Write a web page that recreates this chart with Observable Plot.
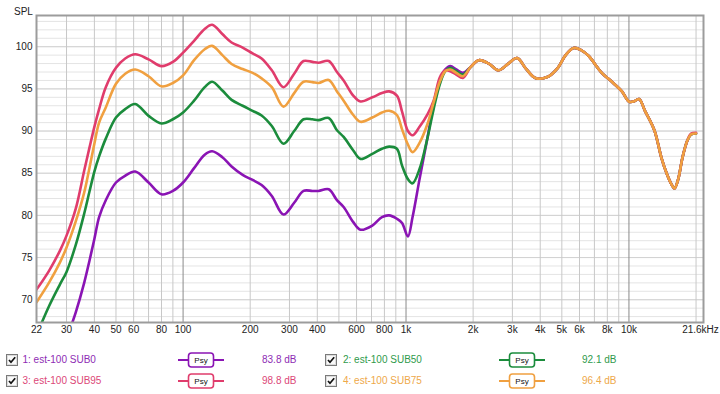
<!DOCTYPE html>
<html><head><meta charset="utf-8">
<script src="https://cdn.jsdelivr.net/npm/d3@7"></script>
<script src="https://cdn.jsdelivr.net/npm/@observablehq/plot@0.6"></script>
<style>
body{margin:0;background:#fff;}
#wrap{position:relative;width:720px;height:394px;font-family:"Liberation Sans",Arial,sans-serif;font-size:10px;overflow:hidden;background:#fff}
#chart{position:absolute;left:0;top:0}
.leg{position:absolute;height:14px;line-height:14px;white-space:nowrap}
.leg svg{display:block}
</style></head>
<body><div id="wrap"><div id="chart"></div><div id="legend"></div></div>
<script>
const freqs = [22,25,28,30,33,36,38,40,42,45,50,55,61,70,80,90,100,112,125,135,150,165,185,205,225,250,282,315,347,380,405,450,490,525,580,625,706,780,840,910,960,1020,1070,1150,1250,1330,1420,1500,1580,1680,1800,1950,2120,2350,2600,2850,3150,3450,3800,4300,4800,5200,5650,6100,6600,7500,8500,9300,10000,10500,11100,11800,13000,14000,14800,15500,16000,16600,17400,18300,19000,20000];

const sub0 = [54.0,58.0,62.5,65.3,68.5,72.0,74.6,77.2,79.8,81.8,83.9,84.7,85.2,83.9,82.5,82.9,83.9,85.6,87.2,87.6,86.9,85.8,84.8,84.2,83.6,82.3,80.1,81.5,82.9,82.9,82.9,83.1,81.8,81.0,79.2,78.3,78.8,79.8,80.0,79.6,79.1,77.5,79.8,84.3,89.3,93.2,96.1,97.3,97.7,97.3,96.9,97.6,98.4,98.0,97.2,97.9,98.65,97.4,96.3,96.4,97.5,99.0,99.85,99.6,98.9,97.0,95.7,94.7,93.5,93.5,93.8,92.4,90.1,86.8,84.9,83.7,83.2,84.2,86.9,88.9,89.6,89.7];

const sub50 = [65.8,69.2,71.8,73.3,76.5,80.2,82.8,85.2,87.0,89.1,91.6,92.6,93.2,91.8,90.9,91.4,92.2,93.6,95.2,95.85,94.8,93.7,93.0,92.4,91.85,90.6,88.5,90.0,91.4,91.4,91.3,91.55,90.1,89.3,87.7,86.7,87.3,87.9,88.15,87.9,85.9,84.3,83.8,85.5,89.25,92.6,95.6,97.1,97.5,97.1,96.7,97.6,98.4,98.0,97.2,97.9,98.65,97.4,96.3,96.4,97.5,99.0,99.85,99.6,98.9,97.0,95.7,94.7,93.5,93.5,93.8,92.4,90.1,86.8,84.9,83.7,83.2,84.2,86.9,88.9,89.6,89.7];

const sub95 = [71.2,73.4,75.8,77.6,80.8,85.3,88.0,90.5,92.6,95.2,97.5,98.6,99.1,98.5,97.7,98.2,99.3,100.7,102.1,102.6,101.5,100.5,99.9,99.2,98.6,97.2,95.2,96.8,98.3,98.2,98.1,98.3,97.0,96.0,94.2,93.5,94.0,94.5,94.7,94.2,92.3,90.0,89.5,90.5,92.0,93.6,96.4,97.2,97.1,96.7,96.3,97.6,98.4,98.0,97.2,97.9,98.65,97.4,96.3,96.4,97.5,99.0,99.85,99.6,98.9,97.0,95.7,94.7,93.5,93.5,93.8,92.4,90.1,86.8,84.9,83.7,83.2,84.2,86.9,88.9,89.7,89.8];

const sub75 = [69.7,72.0,74.4,76.2,79.3,82.7,85.6,88.5,91.0,92.8,95.6,96.8,97.3,96.5,95.3,95.7,96.6,98.4,99.7,100.1,99.0,97.95,97.35,96.9,96.25,95.2,92.9,94.5,95.85,95.8,95.7,96.05,94.7,93.6,91.9,91.1,91.6,92.2,92.4,91.9,90.2,88.4,87.5,88.6,90.9,93.4,95.9,97.1,97.3,96.9,96.5,97.6,98.4,98.0,97.2,97.9,98.65,97.4,96.3,96.4,97.5,99.0,99.85,99.6,98.9,97.0,95.7,94.7,93.5,93.5,93.8,92.4,90.1,86.8,84.9,83.7,83.2,84.2,86.9,88.9,89.6,89.7];

const seriesNames = ["1: est-100 SUB0","2: est-100 SUB50","3: est-100 SUB95","4: est-100 SUB75"];
const seriesColors = ["#8a14b4","#1b8c3c","#e03c6c","#f0a040"];
const legendTextColors = ["#8e2cb4","#2f9a4c","#dc4878","#eea84a"];
const seriesLevels = ["83.8 dB","92.1 dB","98.8 dB","96.4 dB"];
const seriesValues = [sub0, sub50, sub95, sub75];

const xTicks = [22,30,40,50,60,80,100,200,300,400,600,800,1000,2000,3000,4000,5000,6000,8000,10000,21600];
const xTickLabels = ["22","30","40","50","60","80","100","200","300","400","600","800","1k","2k","3k","4k","5k","6k","8k","10k","21.6kHz"];
const yTicks = [70,75,80,85,90,95,100];
const gridFreqMinor = [30,40,50,60,70,80,90,200,300,400,500,600,700,800,900,2000,3000,4000,5000,6000,7000,8000,9000,20000];
const gridFreqMajor = [100,1000,10000];
const gridDbMinor = d3.range(68,104);
const gridDbMajor = [70,75,80,85,90,95,100];

const rows = [];
seriesValues.forEach((arr, k) => freqs.forEach((f, i) => rows.push({f, db: arr[i], s: seriesNames[k]})));
const tickRows = xTicks.map((t, i) => ({t, label: xTickLabels[i], last: i === xTicks.length - 1}));

const chart = Plot.plot({
  width: 720, height: 345,
  marginTop: 15, marginBottom: 23, marginLeft: 36, marginRight: 17,
  style: {fontFamily: '"Liberation Sans", Arial, sans-serif', fontSize: "10px", color: "#222", background: "transparent"},
  x: {type: "log", domain: [22, 21600], label: null, axis: null},
  y: {domain: [67.3, 103.7], label: null},
  color: {domain: seriesNames, range: seriesColors},
  marks: [
    Plot.ruleY(gridDbMinor, {stroke: "#e4e4e4", strokeWidth: 1}),
    Plot.ruleY(gridDbMajor, {stroke: "#d2d2d2", strokeWidth: 1}),
    Plot.ruleX(gridFreqMinor, {stroke: "#c8c8c8", strokeWidth: 1}),
    Plot.ruleX(gridFreqMajor, {stroke: "#8a8a8a", strokeWidth: 1}),
    Plot.line(rows, {x: "f", y: "db", z: "s", stroke: "s", strokeWidth: 2.6, curve: "catmull-rom", clip: true}),
    Plot.frame({stroke: "#9c9c9c", strokeWidth: 2}),
    Plot.text(tickRows.filter(d => !d.last), {x: "t", text: "label", frameAnchor: "bottom", dy: 10, fill: "#222"}),
    Plot.text(tickRows.filter(d => d.last), {x: "t", text: "label", frameAnchor: "bottom", dy: 10, dx: -3, fill: "#222"}),
    Plot.axisY({ticks: yTicks, tickSize: 0, tickPadding: 4, label: null}),
    Plot.text(["SPL"], {text: d => d, frameAnchor: "top-left", dx: -22.5, dy: -7.5, textAnchor: "start", fill: "#222"})
  ]
});
document.getElementById("chart").appendChild(chart);

// legend
const legend = document.getElementById("legend");
const layout = [
  {k: 0, cx: 0, cy: 359.5}, {k: 1, cx: 1, cy: 359.5},
  {k: 2, cx: 0, cy: 381}, {k: 3, cx: 1, cy: 381}
];
const cols = [
  {box: 6, text: 22.5, psy: 178, val: 262},
  {box: 325, text: 343, psy: 499, val: 582}
];
function el(html, left, cy, h) {
  const d = document.createElement("div");
  d.className = "leg";
  d.style.left = left + "px";
  d.style.top = (cy - h / 2) + "px";
  d.style.height = h + "px";
  d.style.lineHeight = h + "px";
  d.innerHTML = html;
  legend.appendChild(d);
}
layout.forEach(({k, cx, cy}) => {
  const c = cols[cx], col = seriesColors[k], tcol = legendTextColors[k];
  el(`<svg width="12" height="12"><rect x="0.5" y="0.5" width="11" height="11" fill="#fafafa" stroke="#7a7a7a"/><rect x="1.5" y="1.5" width="9" height="9" fill="none" stroke="#dcdcdc"/><path d="M3 6 L5 8.3 L9.2 3.3" fill="none" stroke="#111" stroke-width="1.7"/></svg>`, c.box, cy, 12);
  el(`<span style="color:${tcol}">${seriesNames[k]}</span>`, c.text, cy, 14);
  el(`<svg width="46" height="16"><line x1="0" y1="8" x2="46" y2="8" stroke="${col}" stroke-width="2"/><rect x="10.5" y="1" width="25" height="14" rx="3" fill="#fff" stroke="${col}" stroke-width="1.6"/><text x="23" y="11" text-anchor="middle" font-size="8" font-family="Liberation Sans, Arial, sans-serif" fill="#111">Psy</text></svg>`, c.psy, cy, 16);
  el(`<span style="color:${tcol}">${seriesLevels[k]}</span>`, c.val, cy, 14);
});
</script>
</body></html>
